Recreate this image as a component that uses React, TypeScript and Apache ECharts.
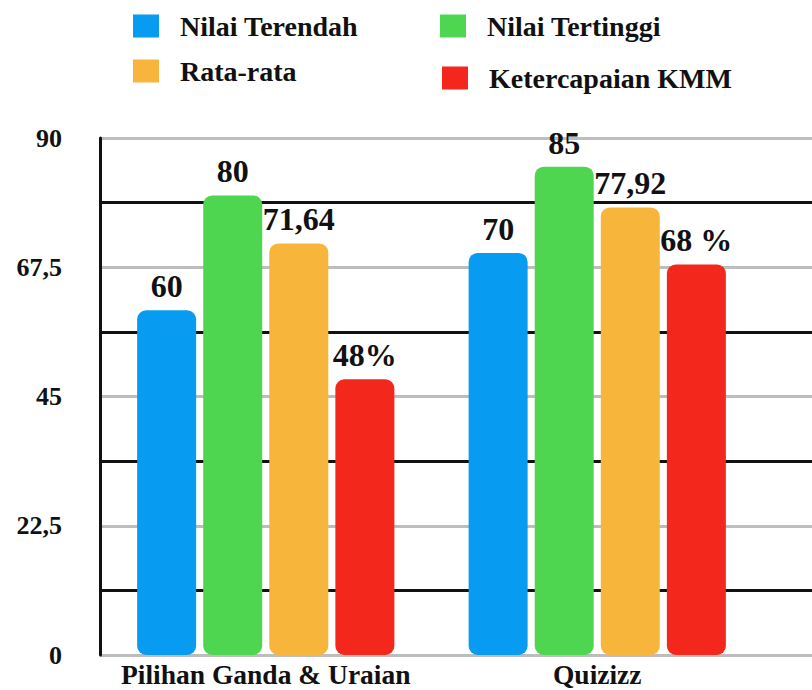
import React, { useEffect, useRef } from "react";
import * as echarts from "echarts";

const categories = ["Pilihan Ganda & Uraian", "Quizizz"];
const seriesNames = ["Nilai Terendah", "Nilai Tertinggi", "Rata-rata", "Ketercapaian KMM"];
const nilaiTerendah = [60, 70];
const nilaiTertinggi = [80, 85];
const rataRata = [71.64, 77.92];
const ketercapaianKMM = [48, 68];
const ketercapaianLabels = ["48%", "68 %"];
const yTicks = [0, 22.5, 45, 67.5, 90];

const colors = ["#079CF1", "#4FD651", "#F8B53C", "#F3271C"];
const FONT = "'Liberation Serif', 'Times New Roman', serif";

export default function App() {
  const ref = useRef<HTMLDivElement>(null);
  useEffect(() => {
    if (!ref.current) return;
    const chart = echarts.init(ref.current, null, { renderer: "svg" });
    const fmt = (v: number) => String(v).replace(".", ",");
    const labelStyle = {
      show: true,
      position: "top" as const,
      distance: 8,
      fontFamily: FONT,
      fontWeight: "bold" as const,
      fontSize: 32,
      color: "#111",
    };
    const mkSeries = (i: number, data: number[], formatter: any) => ({
      name: seriesNames[i],
      type: "bar",
      xAxisIndex: 1,
      yAxisIndex: 1,
      data,
      barWidth: 59,
      barGap: "12%",
      itemStyle: { color: colors[i], borderRadius: 9 },
      label: { ...labelStyle, formatter },
    });
    const legendPos = [
      { left: 133, top: 12 },
      { left: 440, top: 12 },
      { left: 133, top: 57 },
      { left: 442, top: 64 },
    ];
    const option: any = {
      animation: false,
      backgroundColor: "#fff",
      legend: seriesNames.map((n, i) => ({
        data: [n],
        left: legendPos[i].left,
        top: legendPos[i].top,
        padding: 0,
        icon: "rect",
        itemWidth: 26,
        itemHeight: 23,
        selectedMode: false,
        textStyle: {
          fontFamily: FONT,
          fontWeight: "bold",
          fontSize: 28,
          color: "#111",
          padding: [0, 0, 0, 16],
        },
      })),
      grid: [
        { left: 100, right: 0, top: 138, bottom: 35, containLabel: false },
        { left: 100, right: 49, top: 138, bottom: 35, containLabel: false },
      ],
      xAxis: [
        { gridIndex: 0, type: "value", show: false, min: 0, max: 1 },
        {
          gridIndex: 1,
          type: "category",
          data: categories,
          axisLine: { show: false },
          axisTick: { show: false },
          splitLine: { show: false },
          axisLabel: {
            interval: 0,
            margin: 5,
            fontFamily: FONT,
            fontWeight: "bold",
            fontSize: 27.5,
            color: "#111",
          },
        },
      ],
      yAxis: [
        {
          gridIndex: 0,
          type: "value",
          min: 0,
          max: 90,
          interval: 11.25,
          axisLine: { show: true, lineStyle: { color: "#111", width: 3 } },
          axisTick: { show: false },
          splitLine: {
            show: true,
            lineStyle: { color: ["#BDBDBD", "#111111"], width: 3 },
          },
          axisLabel: {
            margin: 38,
            fontFamily: FONT,
            fontWeight: "bold",
            fontSize: 26,
            color: "#111",
            formatter: (v: number) =>
              yTicks.some((t) => Math.abs(t - v) < 1e-6) ? fmt(v) : "",
          },
        },
        { gridIndex: 1, type: "value", min: 0, max: 90, show: false },
      ],
      series: [
        mkSeries(0, nilaiTerendah, (p: any) => fmt(p.value)),
        mkSeries(1, nilaiTertinggi, (p: any) => fmt(p.value)),
        mkSeries(2, rataRata, (p: any) => fmt(p.value)),
        mkSeries(3, ketercapaianKMM, (p: any) => ketercapaianLabels[p.dataIndex]),
      ],
    };
    chart.setOption(option);
    return () => chart.dispose();
  }, []);
  return (
    <div
      ref={ref}
      style={{ position: "fixed", left: 0, top: 0, width: 812, height: 690, background: "#fff" }}
    />
  );
}
